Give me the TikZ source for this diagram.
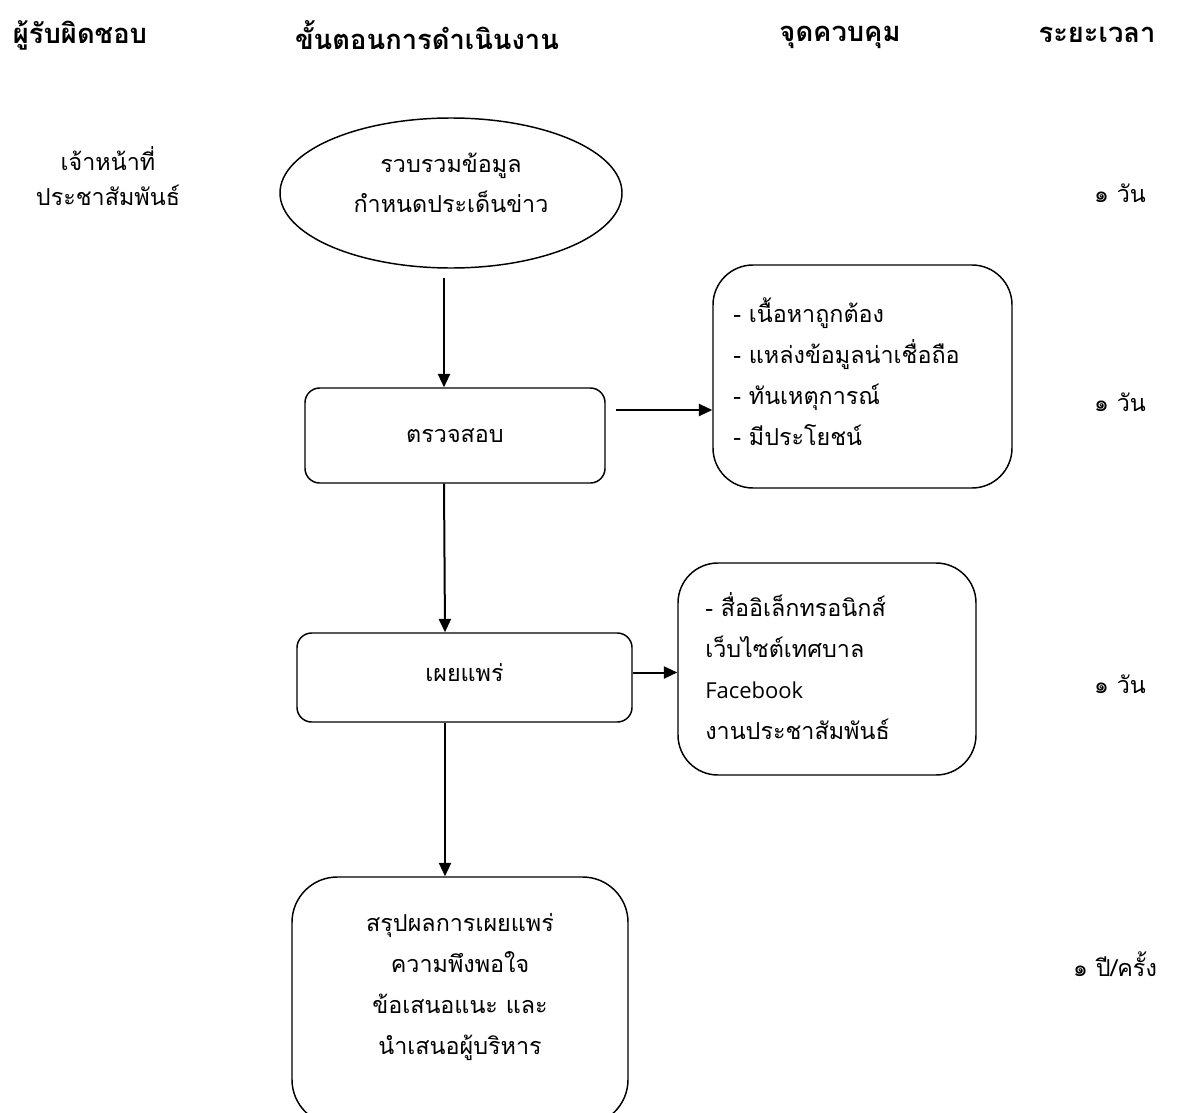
\documentclass[tikz,border=0pt]{standalone}
\usepackage{fontspec}
\setmainfont[Script=Thai]{Loma}
\newfontfamily\latinfont{Open Sans}
\usetikzlibrary{shapes.geometric,arrows.meta}
\begin{document}
\begin{tikzpicture}[x=0.75pt,y=-0.75pt,
  every node/.style={font=\fontsize{17.5pt}{30.75pt}\selectfont},
  hdr/.style={font=\fontsize{20.5pt}{24pt}\selectfont\bfseries},
  plain/.style={align=center},
  txt/.style={align=left,inner sep=0pt},
  rbox/.style={draw,line width=1.1pt,rounded corners=11pt,align=center,inner sep=0pt},
  bigbox/.style={draw,line width=1.1pt,rounded corners=30pt,inner sep=0pt},
  arr/.style={line width=1.5pt,-{Triangle[length=10pt,width=9pt]}}]
\useasboundingbox (0,0) rectangle (1203,1113);
\clip (0,0) rectangle (1203,1113);
% headers
\node[hdr] (h1) at (80,35) {ผู้รับผิดชอบ};
\node[hdr] (h2) at (427,35) {ขั้นตอนการดำเนินงาน};
\node[hdr] (h3) at (840,37) {จุดควบคุม};
\node[hdr] (h4) at (1097,35) {ระยะเวลา};
% responsible
\node[plain,font=\fontsize{17.5pt}{26pt}\selectfont] (resp) at (108,176) {เจ้าหน้าที่\\ประชาสัมพันธ์};
% ellipse
\node[draw,ellipse,line width=1.1pt,minimum width=256.5pt,minimum height=112.5pt,inner sep=0pt] (ell) at (451,193) {};
\node[plain,font=\fontsize{17.5pt}{30pt}\selectfont] (elltext) at (451,183) {รวบรวมข้อมูล\\กำหนดประเด็นข่าว};
% check box
\node[rbox,minimum width=225pt,minimum height=71.25pt] (chk) at (455,435.5) {ตรวจสอบ};
\node[bigbox,minimum width=224.25pt,minimum height=167.25pt] (ctl1) at (862.5,376.5) {};
\node[txt,anchor=west] (ctl1text) at (733,372) {- เนื้อหาถูกต้อง\\- แหล่งข้อมูลน่าเชื่อถือ\\- ทันเหตุการณ์\\- มีประโยชน์};
% publish
\node[rbox,minimum width=251.25pt,minimum height=66.75pt] (pub) at (464.5,677.5) {};
\node (pubtext) at (464.5,673) {เผยแพร่};
\node[bigbox,minimum width=223.5pt,minimum height=159pt] (ctl2) at (827,669) {};
\node[txt,anchor=west] (ctl2text) at (705,666) {- สื่ออิเล็กทรอนิกส์\\เว็บไซต์เทศบาล\\{\latinfont\fontsize{16.5pt}{30.75pt}\selectfont Facebook}\\งานประชาสัมพันธ์};
% summary
\node[draw,line width=1.1pt,rounded corners=34pt,inner sep=0pt,minimum width=252pt,minimum height=186pt] (sum) at (460,1001) {};
\node[plain] (sumtext) at (460,987) {สรุปผลการเผยแพร่\\ความพึงพอใจ\\ข้อเสนอแนะ และ\\นำเสนอผู้บริหาร};
% durations
\node (d1) at (1120,193) {๑ วัน};
\node (d2) at (1120,402) {๑ วัน};
\node (d3) at (1120,684) {๑ วัน};
\node (d4) at (1115,964) {๑ ปี/ครั้ง};
% connectors
\draw[arr] ([shift={(-7,9)}]ell.south) -- ([shift={(-11,0)}]chk.north);
\draw[arr] ([shift={(10,-25.5)}]chk.east) -- ([shift={(0,-25.5)}]chk.east -| ctl1.west);
\draw[arr] ([shift={(-11,0)}]chk.south) -- ([shift={(-19.5,0)}]pub.north);
\draw[arr] ([shift={(0,-5)}]pub.east) -- ([shift={(0,-5)}]pub.east -| ctl2.west);
\draw[arr] ([shift={(-19.5,0)}]pub.south) -- ([shift={(-15,0)}]sum.north);
\end{tikzpicture}
\end{document}
